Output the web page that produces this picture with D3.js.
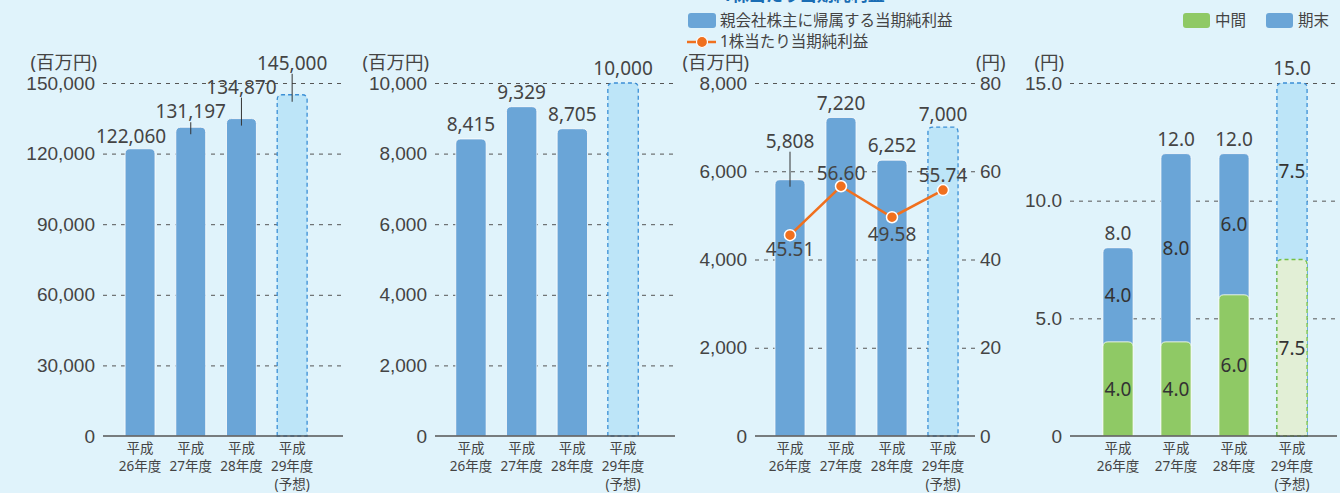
<!DOCTYPE html>
<html>
<head>
<meta charset="utf-8">
<script src="https://cdn.jsdelivr.net/npm/d3@7"></script>
<style>
  html, body { margin: 0; padding: 0; background: #e0f3fb; }
  svg { display: block; font-family: "Noto Sans", "Noto Sans CJK JP", sans-serif; }
  .tick text { fill: #444; font-size: 19px; }
  .grid line { stroke: #555; stroke-dasharray: 4,5; }
</style>
</head>
<body>
<svg width="1340" height="493"></svg>
<script>
// --- data ---
var years = ["平成|26年度", "平成|27年度", "平成|28年度", "平成|29年度|(予想)"];
var forecast = [false, false, false, true];

var sales = [122060, 131197, 134870, 145000];
var salesTicks = [0, 30000, 60000, 90000, 120000, 150000];

var ordinary = [8415, 9329, 8705, 10000];
var ordinaryTicks = [0, 2000, 4000, 6000, 8000, 10000];

var netIncome = [5808, 7220, 6252, 7000];
var netTicks = [0, 2000, 4000, 6000, 8000];
var eps = [45.51, 56.60, 49.58, 55.74];
var epsTicks = [0, 20, 40, 60, 80];

var divInterim = [4.0, 4.0, 6.0, 7.5];
var divFinal = [4.0, 8.0, 6.0, 7.5];
var divTicks = [0, 5, 10, 15];

var svg = d3.select("svg");
var yBase = 436, yTop = 83;
var BLUE = "#6aa5d7", LBLUE = "#bde5f8", DBLUE = "#3b8fd6",
    GREEN = "#8fc965", LGREEN = "#e2efd6", DGREEN = "#74c044",
    ORANGE = "#f0701e", TXT = "#444";

function roundTop(x, y, w, h, r) {
    r = Math.min(r, h, w / 2);
    return "M" + x + "," + (y + h) + "V" + (y + r) + "Q" + x + "," + y + " " + (x + r) + "," + y +
        "H" + (x + w - r) + "Q" + (x + w) + "," + y + " " + (x + w) + "," + (y + r) + "V" + (y + h) + "Z";
}

function frame(o) {
    var y = d3.scaleLinear().domain([0, o.max]).range([yBase, yTop]);
    var x = d3.scaleBand().domain(years).range(o.band).paddingInner(o.pad).paddingOuter(o.pad / 2);
    var g = svg.append("g");
    g.append("g")
        .attr("class", "grid")
        .attr("transform", "translate(" + o.left + ",0)")
        .call(d3.axisLeft(y).tickValues(o.ticks).tickSize(-(o.right - o.left)).tickPadding(8).tickFormat(o.fmt))
        .call(s => s.select(".domain").remove())
        .call(s => s.selectAll(".tick").filter(d => d === 0).select("line").remove());
    g.append("text").attr("x", o.left - 6).attr("y", 69).attr("text-anchor", "end")
        .attr("fill", TXT).style("font-size", "18.5px").text(o.unit);
    // category labels
    g.selectAll(".cat").data(years).join("text")
        .attr("class", "cat")
        .attr("fill", TXT).style("font-size", "13.5px").attr("text-anchor", "middle")
        .each(function(d) {
            var t = d3.select(this);
            d.split("|").forEach((s, i) => {
                t.append("tspan").attr("x", x(d) + x.bandwidth() / 2).attr("y", 453 + i * 18).text(s);
            });
        });
    return {g: g, x: x, y: y};
}

function baseline(g, o) {
    g.append("line").attr("x1", o.left).attr("x2", o.right).attr("y1", yBase).attr("y2", yBase)
        .attr("stroke", "#555").attr("stroke-width", 1.6);
}

function bars(g, x, y, vals, fill, lfill, stroke) {
    g.selectAll(null).data(vals).join("path")
        .attr("d", (d, i) => roundTop(x(years[i]), y(d), x.bandwidth(), yBase - y(d), 5))
        .attr("fill", (d, i) => forecast[i] ? lfill : fill)
        .attr("stroke", (d, i) => forecast[i] ? stroke : "#fff")
        .attr("stroke-width", (d, i) => forecast[i] ? 1.3 : 0.8)
        .attr("stroke-dasharray", (d, i) => forecast[i] ? "4,3" : null);
}

function valueLabels(g, x, y, vals, fmt, lift, lead, dx) {
    vals.forEach((d, i) => {
        var cx = x(years[i]) + x.bandwidth() / 2;
        var ty = y(d) - lift[i];
        if (lead[i]) {
            g.append("line").attr("x1", cx).attr("x2", cx).attr("y1", ty + 4).attr("y2", y(d) + 7)
                .attr("stroke", "#333").attr("stroke-width", 1);
        }
        g.append("text").attr("x", cx + (dx ? dx[i] : 0)).attr("y", ty).attr("text-anchor", "middle")
            .attr("fill", TXT).style("font-size", "19px").text(fmt(d));
    });
}

var comma = d3.format(",");

// --- panel 1 ---
var o1 = {left: 103, right: 343, band: [114.7, 317.5], pad: 0.41, max: 150000, ticks: salesTicks, fmt: comma, unit: "(百万円)"};
var p1 = frame(o1);
bars(p1.g, p1.x, p1.y, sales, BLUE, LBLUE, DBLUE);
baseline(p1.g, o1);
valueLabels(p1.g, p1.x, p1.y, sales, comma, [6, 9, 25, 25], [false, true, true, true], [-9, 0, 0, 0]);

// --- panel 2 ---
var o2 = {left: 435, right: 675, band: [445.6, 648.4], pad: 0.4, max: 10000, ticks: ordinaryTicks, fmt: comma, unit: "(百万円)"};
var p2 = frame(o2);
bars(p2.g, p2.x, p2.y, ordinary, BLUE, LBLUE, DBLUE);
baseline(p2.g, o2);
valueLabels(p2.g, p2.x, p2.y, ordinary, comma, [8, 8, 8, 8], [false, false, false, false]);

// --- panel 3 ---
var o3 = {left: 755, right: 975, band: [764.5, 968.5], pad: 0.41, max: 8000, ticks: netTicks, fmt: comma, unit: "(百万円)"};
var p3 = frame(o3);
var y3r = d3.scaleLinear().domain([0, 80]).range([yBase, yTop]);
p3.g.append("g")
    .attr("transform", "translate(" + o3.right + ",0)")
    .call(d3.axisRight(y3r).tickValues(epsTicks).tickSize(0).tickPadding(5))
    .call(s => s.select(".domain").remove());
p3.g.append("text").attr("x", 976).attr("y", 69).attr("fill", TXT).style("font-size", "18.5px").text("(円)");
bars(p3.g, p3.x, p3.y, netIncome, BLUE, LBLUE, DBLUE);
baseline(p3.g, o3);
valueLabels(p3.g, p3.x, p3.y, netIncome, comma, [32, 7, 8, 6], [true, false, false, false]);
var cx3 = (d, i) => p3.x(years[i]) + p3.x.bandwidth() / 2;
p3.g.append("path").datum(eps)
    .attr("d", d3.line().x(cx3).y(d => y3r(d)))
    .attr("fill", "none").attr("stroke", ORANGE).attr("stroke-width", 2.5);
p3.g.selectAll(".dot").data(eps).join("circle")
    .attr("cx", cx3).attr("cy", d => y3r(d)).attr("r", 5.5)
    .attr("fill", ORANGE).attr("stroke", "#fff").attr("stroke-width", 1.5);
var epsOff = [21, -6, 24, -8];
p3.g.selectAll(".epsl").data(eps).join("text")
    .attr("x", cx3).attr("y", (d, i) => y3r(d) + epsOff[i]).attr("text-anchor", "middle")
    .attr("fill", TXT).style("font-size", "19px").text(d => d.toFixed(2));

// --- panel 4 ---
var o4 = {left: 1070, right: 1337, band: [1089, 1321], pad: 0.48, max: 15, ticks: divTicks,
    fmt: d => d === 0 ? "0" : d.toFixed(1), unit: "(円)"};
var p4 = frame(o4);
var totals = divInterim.map((d, i) => d + divFinal[i]);
bars(p4.g, p4.x, p4.y, totals, BLUE, LBLUE, DBLUE);
bars(p4.g, p4.x, p4.y, divInterim, GREEN, LGREEN, DGREEN);
baseline(p4.g, o4);
valueLabels(p4.g, p4.x, p4.y, totals, d => d.toFixed(1), [8, 8, 8, 8], [false, false, false, false]);
[[divInterim, (d, i) => d / 2], [divFinal, (d, i) => divInterim[i] + d / 2]].forEach(function(s) {
    p4.g.selectAll(null).data(s[0]).join("text")
        .attr("x", (d, i) => p4.x(years[i]) + p4.x.bandwidth() / 2)
        .attr("y", (d, i) => p4.y(s[1](d, i)) + 7)
        .attr("text-anchor", "middle").attr("fill", "#333").style("font-size", "19px")
        .text(d => d.toFixed(1));
});

// --- legends / title ---
svg.append("text").attr("x", 722).attr("y", 1).attr("fill", "#1a6db4")
    .style("font-size", "17px").style("font-weight", "bold").text("1株当たり当期純利益");
var lg = svg.append("g").style("font-size", "15.5px").attr("fill", TXT);
lg.append("rect").attr("x", 688).attr("y", 13).attr("width", 28).attr("height", 15).attr("rx", 3).attr("fill", BLUE);
lg.append("text").attr("x", 720).attr("y", 26).text("親会社株主に帰属する当期純利益");
lg.append("line").attr("x1", 687).attr("x2", 716).attr("y1", 42).attr("y2", 42).attr("stroke", ORANGE).attr("stroke-width", 2.5);
lg.append("circle").attr("cx", 702).attr("cy", 42).attr("r", 5.5).attr("fill", ORANGE).attr("stroke", "#fff").attr("stroke-width", 1.2);
lg.append("text").attr("x", 720).attr("y", 47).text("1株当たり当期純利益");
[["中間", GREEN, 1183], ["期末", BLUE, 1266]].forEach(function(l) {
    lg.append("rect").attr("x", l[2]).attr("y", 13).attr("width", 27).attr("height", 15).attr("rx", 3).attr("fill", l[1]);
    lg.append("text").attr("x", l[2] + 32).attr("y", 26).text(l[0]);
});
</script>
</body>
</html>
